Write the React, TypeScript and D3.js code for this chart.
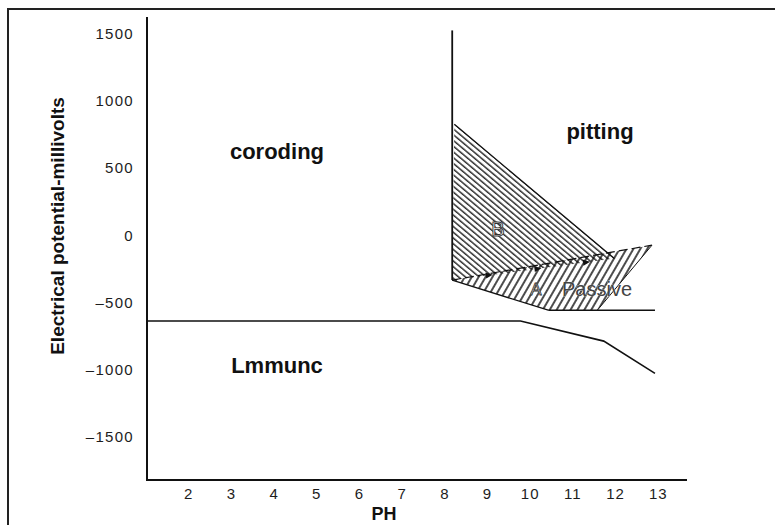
import React from "react";
import * as d3 from "d3";

// Pourbaix-style diagram: electrical potential (mV) against pH
const xTickValues = [2, 3, 4, 5, 6, 7, 8, 9, 10, 11, 12, 13];
const yTickValues = [1500, 1000, 500, 0, -500, -1000, -1500];

// immunity boundary (horizontal then falling)
const immunityPH = [1.0, 9.75, 11.7, 12.9];
const immunityMV = [-625, -625, -775, -1015];

// pitting / passivity vertical boundary
const verticalPH = [8.15, 8.15];
const verticalMV = [1540, -320];

// region B (pitting-susceptible, hatched)
const regionBPH = [8.2, 11.95, 8.15];
const regionBMV = [840, -160, -320];

// region A (passive, hatched)
const regionAPH = [8.15, 10.4, 11.55, 12.83];
const regionAMV = [-320, -545, -545, -60];

// passive lower bound line
const passiveFloorPH = [10.4, 12.9];
const passiveFloorMV = [-545, -545];

const W = 775;
const H = 525;

export default function App() {
  const x = d3.scaleLinear().domain([1, 13.65]).range([147, 687]);
  const y = d3.scaleLinear().domain([-1810, 1640]).range([480, 17]);

  const toPts = (px: number[], py: number[]) => px.map((p, i) => [x(p), y(py[i])] as [number, number]);
  const line = d3.line<[number, number]>();

  const immunity = toPts(immunityPH, immunityMV);
  const vertical = toPts(verticalPH, verticalMV);
  const regionB = toPts(regionBPH, regionBMV);
  const regionA = toPts(regionAPH, regionAMV);
  const floor = toPts(passiveFloorPH, passiveFloorMV);

  const closed = (pts: [number, number][]) => line(pts) + "Z";

  // dashed base of region B with small arrowheads along it
  const baseStart = regionB[2];
  const baseEnd = regionB[1];
  const arrowFractions = [0.25, 0.55, 0.85];
  const ang = Math.atan2(baseEnd[1] - baseStart[1], baseEnd[0] - baseStart[0]);

  const font = "'Liberation Sans', Arial, Helvetica, sans-serif";

  return (
    <svg
      width={W}
      height={H}
      style={{ position: "absolute", left: 0, top: 0, background: "#fff" }}
      fontFamily={font}
    >
      <defs>
        <pattern id="hatchB" width="4.4" height="4.4" patternUnits="userSpaceOnUse" patternTransform="rotate(40)">
          <line x1="0" y1="1" x2="4.4" y2="1" stroke="#111" strokeWidth="1.3" />
        </pattern>
        <pattern id="hatchA" width="6" height="6" patternUnits="userSpaceOnUse" patternTransform="rotate(-60)">
          <line x1="0" y1="1" x2="6" y2="1" stroke="#111" strokeWidth="1.5" />
        </pattern>
      </defs>

      {/* frame */}
      <path d={`M8,${H} L8,9 L${W},9`} fill="none" stroke="#222" strokeWidth={2} />

      {/* axes */}
      <path d={`M${x(1)},${y(1640)} L${x(1)},${y(-1810)} L${x(13.65)},${y(-1810)}`} fill="none" stroke="#111" strokeWidth={2} />

      {/* y tick labels */}
      {yTickValues.map((v) => (
        <text key={v} x={134} y={y(v) + 3.5} textAnchor="end" fontSize={15} letterSpacing={1.3} fill="#1d1d1d">
          {v < 0 ? "\u2013" + Math.abs(v) : v}
        </text>
      ))}

      {/* x tick labels */}
      {xTickValues.map((v) => (
        <text key={v} x={x(v) - 1} y={499} textAnchor="middle" fontSize={15} letterSpacing={1} fill="#1d1d1d">
          {v}
        </text>
      ))}

      {/* axis titles */}
      <text x={384} y={520} textAnchor="middle" fontSize={18} fontWeight="bold" fill="#111">PH</text>
      <text
        transform={`translate(64,226) rotate(-90)`}
        textAnchor="middle"
        fontSize={19}
        fontWeight="bold"
        fill="#111"
      >
        Electrical potential-millivolts
      </text>

      {/* hatched regions */}
      <path d={closed(regionB)} fill="url(#hatchB)" stroke="none" />
      <path d={closed(regionA)} fill="url(#hatchA)" stroke="none" />
      <path d={line([regionB[0], regionB[1]]) as string} fill="none" stroke="#111" strokeWidth={1.3} />
      <path d={line([regionA[0], regionA[1]]) as string} fill="none" stroke="#111" strokeWidth={1.3} />
      <path d={line([regionA[2], regionA[3]]) as string} fill="none" stroke="#111" strokeWidth={1} />
      <path d={line([baseStart, regionA[3]]) as string} fill="none" stroke="#111" strokeWidth={1.2} strokeDasharray="9,4" />
      {arrowFractions.map((f) => {
        const px = baseStart[0] + (baseEnd[0] - baseStart[0]) * f;
        const py = baseStart[1] + (baseEnd[1] - baseStart[1]) * f;
        return (
          <path
            key={f}
            d="M0,0 L-7,-3 L-7,3 Z"
            transform={`translate(${px},${py}) rotate(${(ang * 180) / Math.PI})`}
            fill="#111"
          />
        );
      })}

      {/* boundary lines */}
      <path d={line(vertical) as string} fill="none" stroke="#111" strokeWidth={1.8} />
      <path d={line(immunity) as string} fill="none" stroke="#111" strokeWidth={1.6} />
      <path d={line(floor) as string} fill="none" stroke="#111" strokeWidth={1.6} />

      {/* region labels */}
      <text x={277} y={159} textAnchor="middle" fontSize={22} fontWeight="bold" fill="#111">coroding</text>
      <text x={600} y={139} textAnchor="middle" fontSize={22} fontWeight="bold" fill="#111">pitting</text>
      <text x={277} y={373} textAnchor="middle" fontSize={22} fontWeight="bold" fill="#111">Lmmunc</text>
      <text x={597} y={296} textAnchor="middle" fontSize={20} fill="#444" stroke="#fff" strokeWidth={0.4} paintOrder="stroke">Passive</text>
      <text x={498} y={236} textAnchor="middle" fontSize={20} fill="#fff" stroke="#333" strokeWidth={0.9}>B</text>
      <text x={536} y={295} textAnchor="middle" fontSize={17} fill="#fff" stroke="#333" strokeWidth={0.8}>A</text>
    </svg>
  );
}
